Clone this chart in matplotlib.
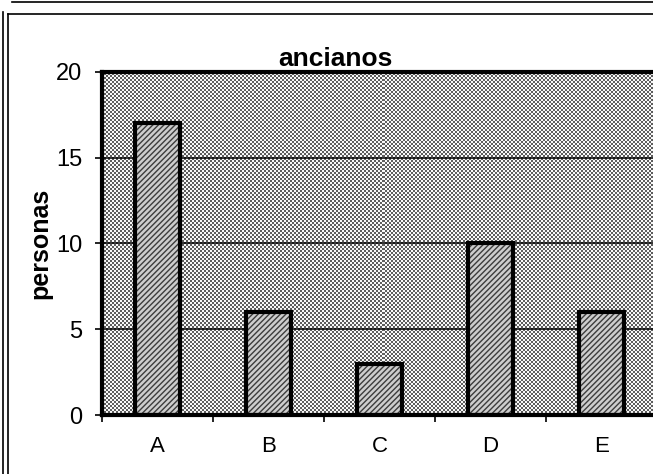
import numpy as np
import matplotlib.pyplot as plt
from matplotlib.lines import Line2D

categories = ["A", "B", "C", "D", "E"]
personas = [17, 6, 3, 10, 6]
y_ticks = [0, 5, 10, 15, 20]

plt.rcParams["font.family"] = ["Liberation Sans", "DejaVu Sans"]
plt.rcParams["hatch.linewidth"] = 1.0

fig = plt.figure(figsize=(6.53, 4.74), dpi=100)
W, H = 653, 474

# plot area in pixels: left 102, right 657, top 72, bottom 415
ax = fig.add_axes([102 / W, (H - 415) / H, 555 / W, 343 / H])

# dithered grey background of the plot area
nx, ny = 555 // 2, 343 // 2
checker = (np.add.outer(np.arange(ny), np.arange(nx)) % 2).astype(float)
ax.imshow(checker, cmap="gray", vmin=-0.6, vmax=1.05, interpolation="nearest",
          extent=(-0.5, 4.5, 0, 20), aspect="auto", zorder=0)

x = np.arange(len(categories))
for yv in y_ticks[1:-1]:
    ax.axhline(yv, color="black", lw=1.1, zorder=1)

# hatched fill first, then the heavy outline on top
ax.bar(x, personas, width=0.4, facecolor="#cdcdcd", edgecolor="#3c3c3c",
       linewidth=0, hatch="//////", zorder=2)
ax.bar(x, personas, width=0.4, facecolor="none", edgecolor="black",
       linewidth=3, zorder=3)

ax.set_xlim(-0.5, 4.5)
ax.set_ylim(0, 20)

ax.set_yticks(y_ticks)
ax.set_xticks(np.arange(-0.5, 5, 1))
ax.set_xticklabels([])
ax.set_xticks(x, minor=True)
ax.set_xticklabels(categories, minor=True)
ax.tick_params(axis="x", which="minor", length=0, pad=15, labelsize=16)
ax.tick_params(axis="x", which="major", length=5, width=1.2, direction="out")
ax.tick_params(axis="y", length=5, width=1.2, direction="out", pad=9, labelsize=17)

for side in ["left", "bottom", "top"]:
    ax.spines[side].set_linewidth(3)
ax.spines["right"].set_visible(False)

fig.text(335 / W, 1 - 59 / H, "ancianos", ha="center", va="center",
         fontsize=19, fontweight="bold")
fig.text(40 / W, 1 - 243 / H, "personas", ha="center", va="center",
         rotation=90, fontsize=18, fontweight="bold")

# double border lines around the sheet
def hline(y, x0, x1):
    fig.add_artist(Line2D([x0 / W, x1 / W], [1 - y / H, 1 - y / H], color="black", lw=1.2))

def vline(xp, y0, y1):
    fig.add_artist(Line2D([xp / W, xp / W], [1 - y0 / H, 1 - y1 / H], color="black", lw=1.2))

hline(1.5, 12, 653)
hline(13.5, 7.5, 653)
vline(2.5, 12, 474)
vline(7.5, 13.5, 474)

fig.savefig("out.png", dpi=100)
